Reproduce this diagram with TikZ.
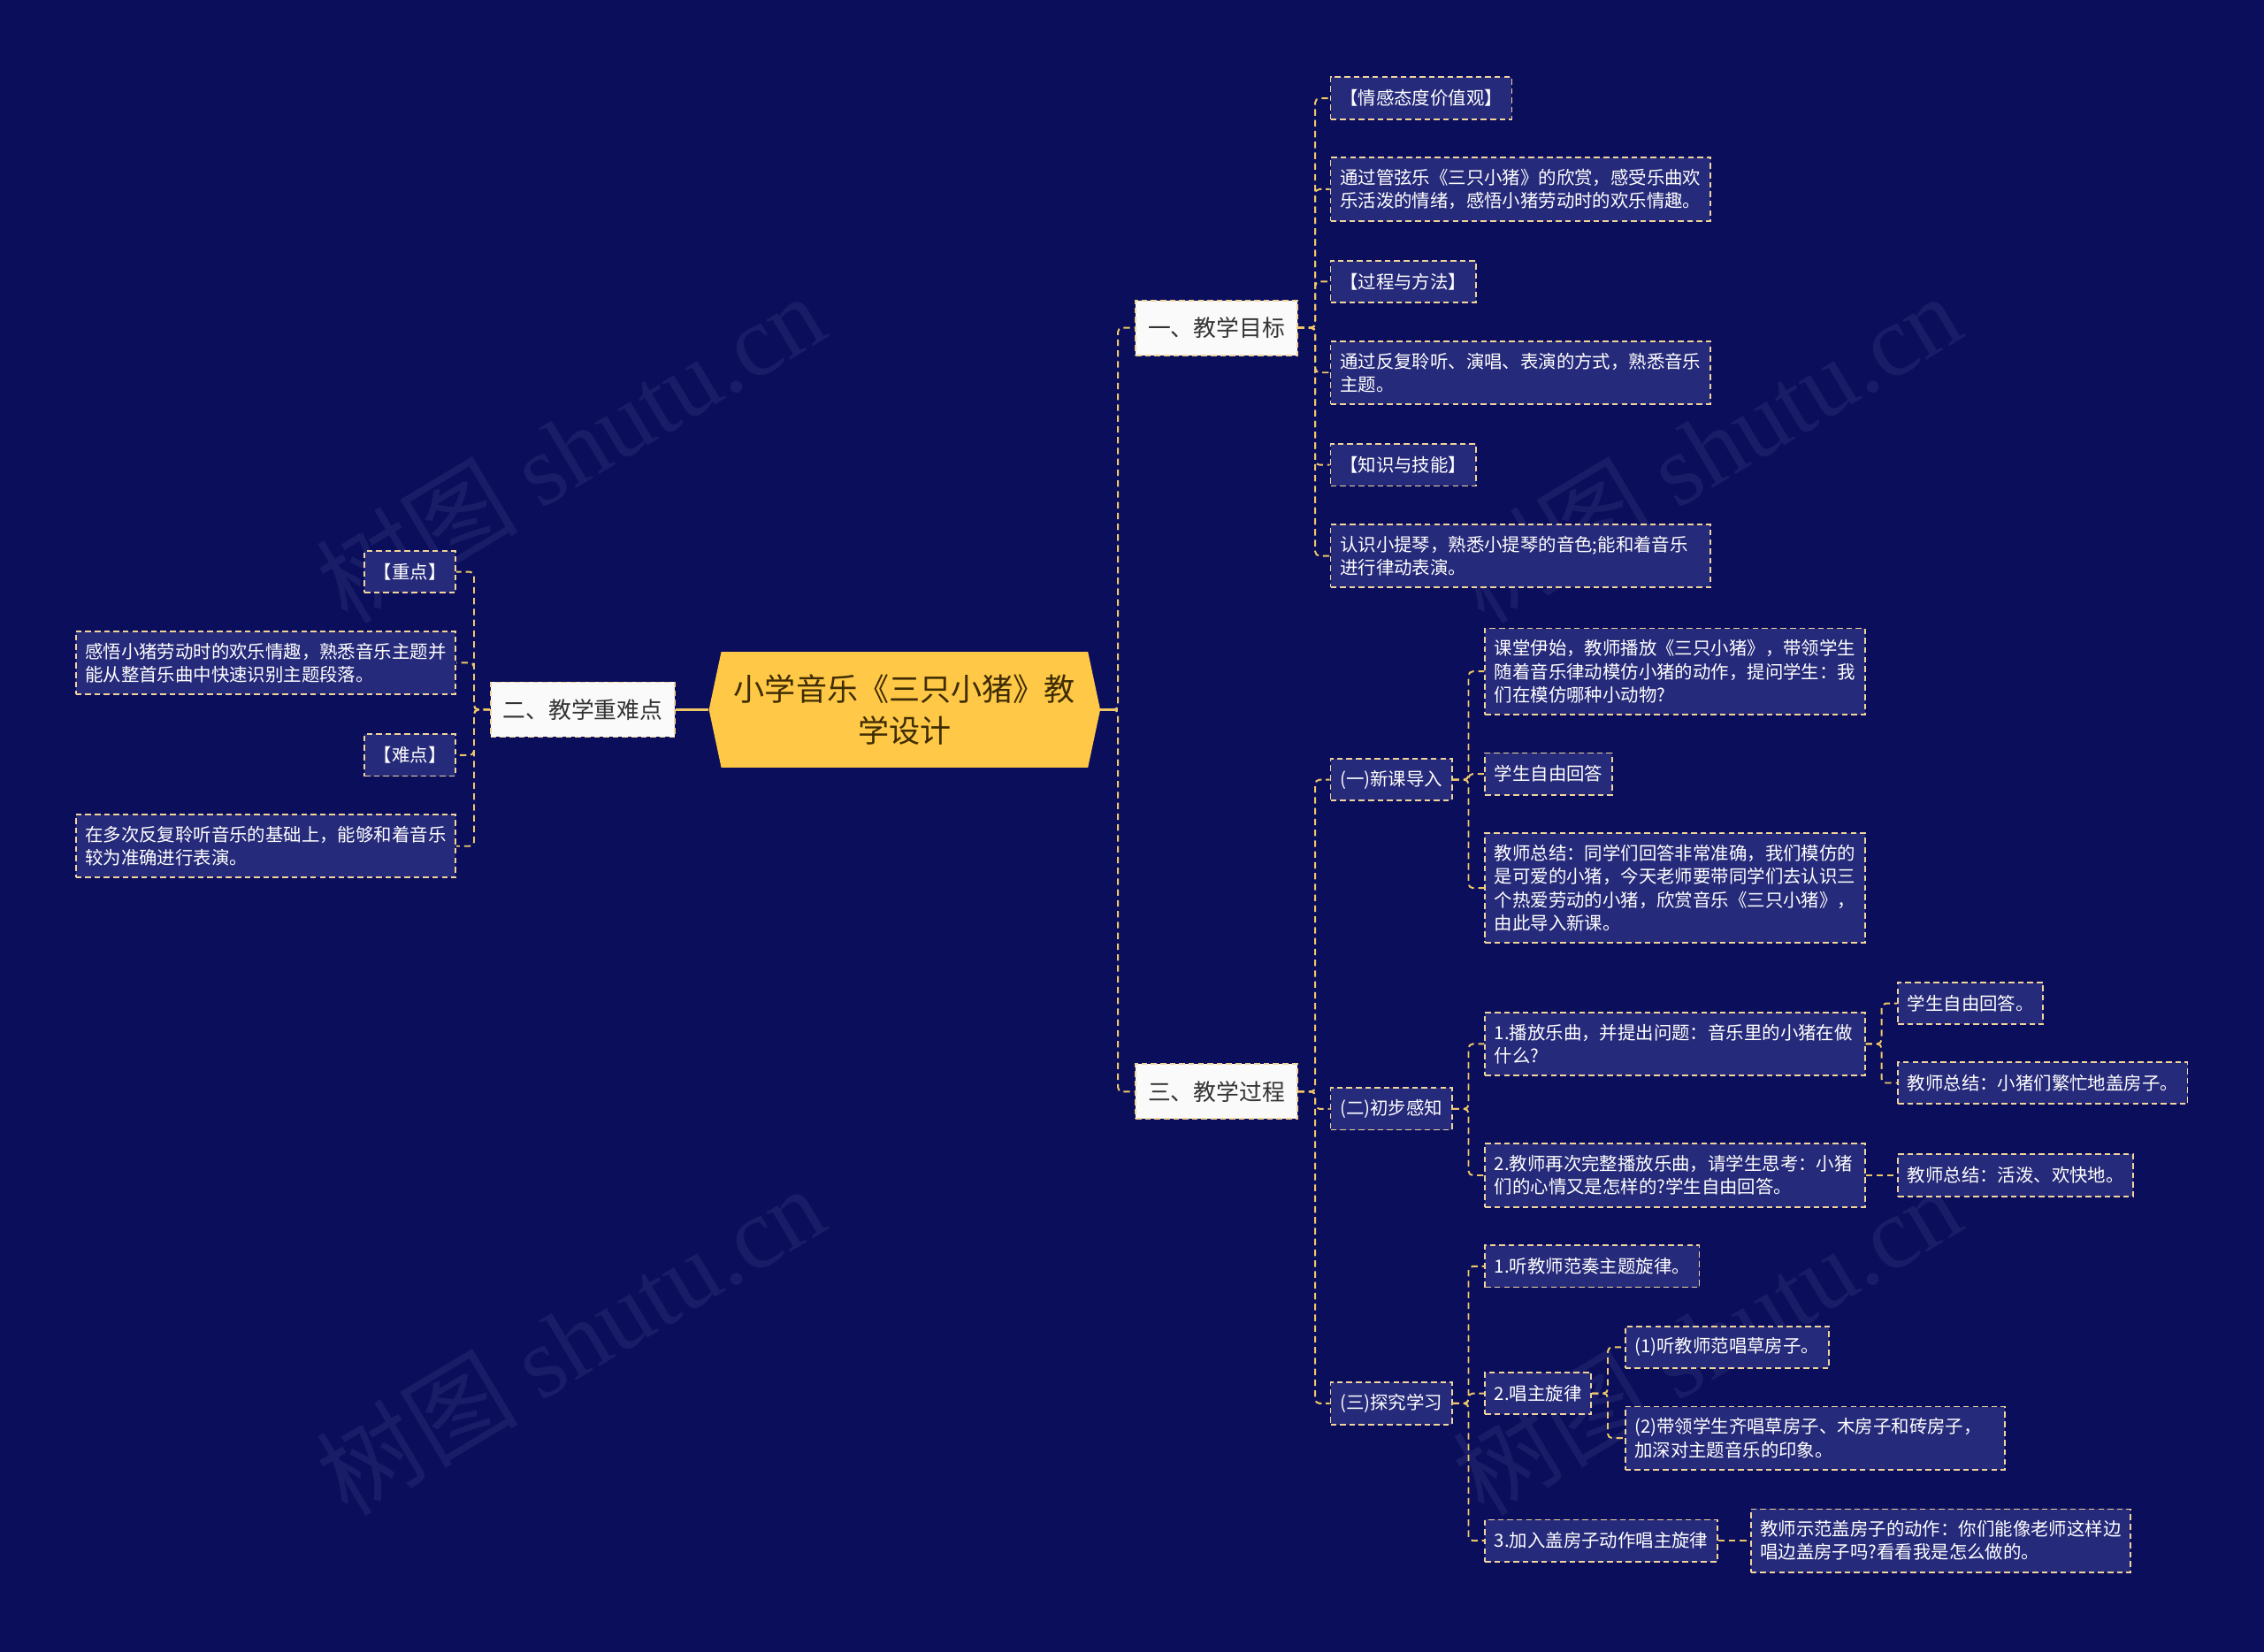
\documentclass[tikz,border=0pt]{standalone}
\usepackage{fontspec}
\setmainfont{Noto Sans CJK SC}
\newfontfamily\wmserif{Liberation Serif}
\usepackage{tikz}
\usetikzlibrary{shapes.symbols}
\definecolor{mapbg}   {RGB}{ 11, 14, 90}
\definecolor{leafbg}  {RGB}{ 38, 42,122}
\definecolor{dashgold}{RGB}{240,212,156}
\definecolor{linkgold}{RGB}{238,200,104}
\definecolor{rootfill}{RGB}{255,200, 70}
\definecolor{roottext}{RGB}{ 62, 44,  4}
\definecolor{wmcol}   {RGB}{ 25, 29,104}

\begin{document}
\begin{tikzpicture}[x=1pt, y=-1pt,
      root/.style={shape=signal, signal to=east and west, signal pointer angle=156,
                   fill=rootfill, text=roottext, minimum width=271pt, minimum height=80pt,
                   align=center, font=\fontsize{21.5}{29}\selectfont},
      topic/.style={draw=dashgold, dash pattern=on 4pt off 2.5pt, line width=1.1pt,
                    fill=white!96!gray, text=black!80, inner xsep=8.5pt,
                    minimum height=38pt, font=\fontsize{15.8}{19}\selectfont},
      leaf/.style={draw=dashgold, dash pattern=on 4pt off 2.5pt, line width=1.1pt,
                   fill=leafbg, text=white, inner xsep=6.5pt, inner ysep=8pt,
                   minimum height=29pt, align=left, font=\fontsize{12.5}{16}\selectfont},
      para/.style={leaf, text width=250pt},
      link/.style={draw=linkgold, dash pattern=on 4.5pt off 3pt, line width=1.2pt,
                   rounded corners=3pt},
      stem/.style={draw=linkgold, line width=1.8pt},
      wm/.style={text=wmcol, rotate=31, font=\fontsize{70}{76}\selectfont},
    ]
      % Background
      \fill[mapbg] (0,0) rectangle (1568,1144);

      % Watermarks
      \node[wm] (wm1) at ( 395, 310) {树图 {\wmserif shutu.cn}};
      \node[wm] (wm2) at (1182, 310) {树图 {\wmserif shutu.cn}};
      \node[wm] (wm3) at ( 395, 928) {树图 {\wmserif shutu.cn}};
      \node[wm] (wm4) at (1182, 928) {树图 {\wmserif shutu.cn}};

      % Root
      \node[root] (root) at (626.5,491.5) {小学音乐《三只小猪》教\\学设计};

      % Main topics
      \node[topic, anchor=west] (goal) at (786,227)   {一、教学目标};
      \node[topic, anchor=east] (key)  at (468,491.5) {二、教学重难点};
      \node[topic, anchor=west] (proc) at (786,756)   {三、教学过程};

      % Teaching goals
      \node[leaf, anchor=west] (g1) at (921, 68) {【情感态度价值观】};
      \node[para, anchor=west] (g2) at (921,131)
            {通过管弦乐《三只小猪》的欣赏，感受乐曲欢\\乐活泼的情绪，感悟小猪劳动时的欢乐情趣。};
      \node[leaf, anchor=west] (g3) at (921,195) {【过程与方法】};
      \node[para, anchor=west] (g4) at (921,258)
            {通过反复聆听、演唱、表演的方式，熟悉音乐\\主题。};
      \node[leaf, anchor=west] (g5) at (921,322) {【知识与技能】};
      \node[para, anchor=west] (g6) at (921,385)
            {认识小提琴，熟悉小提琴的音色;能和着音乐\\进行律动表演。};

      % Key and difficult points
      \node[leaf, anchor=east] (k1) at (316,396) {【重点】};
      \node[para, anchor=east] (k2) at (316,459)
            {感悟小猪劳动时的欢乐情趣，熟悉音乐主题并\\能从整首乐曲中快速识别主题段落。};
      \node[leaf, anchor=east] (k3) at (316,523) {【难点】};
      \node[para, anchor=east] (k4) at (316,586)
            {在多次反复聆听音乐的基础上，能够和着音乐\\较为准确进行表演。};

      % Teaching process
      \node[leaf, anchor=west] (s1) at (921,540) {(一)新课导入};
      \node[leaf, anchor=west] (s2) at (921,768) {(二)初步感知};
      \node[leaf, anchor=west] (s3) at (921,972) {(三)探究学习};

      \node[para, anchor=west] (s1a) at (1028,465)
            {课堂伊始，教师播放《三只小猪》，带领学生\\随着音乐律动模仿小猪的动作，提问学生：我\\们在模仿哪种小动物?};
      \node[leaf, anchor=west] (s1b) at (1028,536) {学生自由回答};
      \node[para, anchor=west] (s1c) at (1028,615)
            {教师总结：同学们回答非常准确，我们模仿的\\是可爱的小猪，今天老师要带同学们去认识三\\个热爱劳动的小猪，欣赏音乐《三只小猪》，\\由此导入新课。};

      \node[para, anchor=west] (s2a) at (1028,723)
            {1.播放乐曲，并提出问题：音乐里的小猪在做\\什么?};
      \node[para, anchor=west] (s2b) at (1028,814)
            {2.教师再次完整播放乐曲，请学生思考：小猪\\们的心情又是怎样的?学生自由回答。};
      \node[leaf, anchor=west] (s2a1) at (1314,695) {学生自由回答。};
      \node[leaf, anchor=west] (s2a2) at (1314,750) {教师总结：小猪们繁忙地盖房子。};
      \node[leaf, anchor=west] (s2b1) at (1314,814) {教师总结：活泼、欢快地。};

      \node[leaf, anchor=west] (s3a) at (1028, 877) {1.听教师范奏主题旋律。};
      \node[leaf, anchor=west] (s3b) at (1028, 965) {2.唱主旋律};
      \node[leaf, anchor=west] (s3c) at (1028,1067) {3.加入盖房子动作唱主旋律};
      \node[leaf, anchor=west] (s3b1) at (1125,933) {(1)听教师范唱草房子。};
      \node[para, anchor=west] (s3b2) at (1125,996)
            {(2)带领学生齐唱草房子、木房子和砖房子，\\加深对主题音乐的印象。};
      \node[para, anchor=west] (s3c1) at (1212,1067)
            {教师示范盖房子的动作：你们能像老师这样边\\唱边盖房子吗?看看我是怎么做的。};

      % Links
      \draw[link] (root.east)--++(12,0)|-(goal.west);
      \draw[link] (root.east)--++(12,0)|-(proc.west);
      \draw[stem] (root.east)--++(12,0);
      \draw[stem] (root.west)--(key.east);

      \draw[link] (goal.east)--++(12,0)|-(g1.west);
      \draw[link] (goal.east)--++(12,0)|-(g2.west);
      \draw[link] (goal.east)--++(12,0)|-(g3.west);
      \draw[link] (goal.east)--++(12,0)|-(g4.west);
      \draw[link] (goal.east)--++(12,0)|-(g5.west);
      \draw[link] (goal.east)--++(12,0)|-(g6.west);

      \draw[link] (key.west)--++(-11,0)|-(k1.east);
      \draw[link] (key.west)--++(-11,0)|-(k2.east);
      \draw[link] (key.west)--++(-11,0)|-(k3.east);
      \draw[link] (key.west)--++(-11,0)|-(k4.east);

      \draw[link] (proc.east)--++(12,0)|-(s1.west);
      \draw[link] (proc.east)--++(12,0)|-(s2.west);
      \draw[link] (proc.east)--++(12,0)|-(s3.west);

      \draw[link] (s1.east)--++(11,0)|-(s1a.west);
      \draw[link] (s1.east)--++(11,0)|-(s1b.west);
      \draw[link] (s1.east)--++(11,0)|-(s1c.west);

      \draw[link] (s2.east)--++(11,0)|-(s2a.west);
      \draw[link] (s2.east)--++(11,0)|-(s2b.west);
      \draw[link] (s2a.east)--++(11,0)|-(s2a1.west);
      \draw[link] (s2a.east)--++(11,0)|-(s2a2.west);
      \draw[link] (s2b.east)--(s2b1.west);

      \draw[link] (s3.east)--++(11,0)|-(s3a.west);
      \draw[link] (s3.east)--++(11,0)|-(s3b.west);
      \draw[link] (s3.east)--++(11,0)|-(s3c.west);
      \draw[link] (s3b.east)--++(11,0)|-(s3b1.west);
      \draw[link] (s3b.east)--++(11,0)|-(s3b2.west);
      \draw[link] (s3c.east)--(s3c1.west);
    \end{tikzpicture}
\end{document}
